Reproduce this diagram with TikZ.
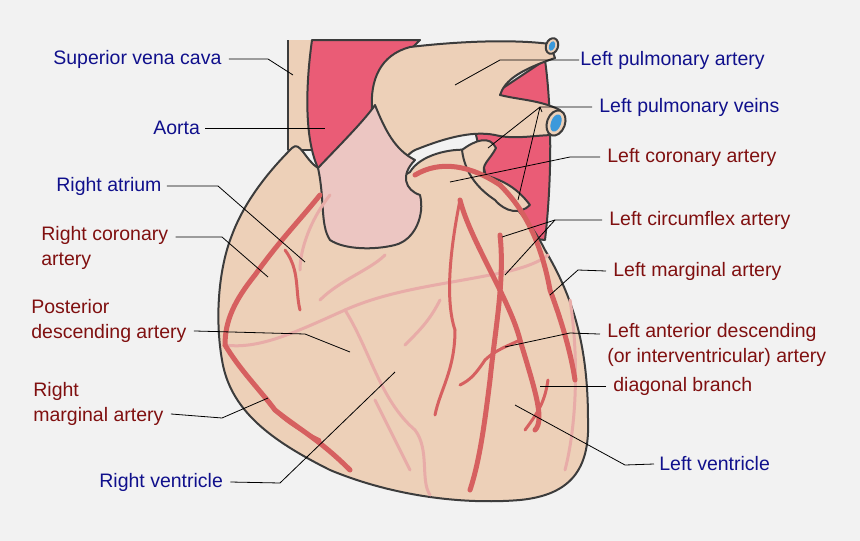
\documentclass[tikz,border=0pt]{standalone}
\usepackage{fontspec}
\setmainfont{Liberation Sans}
\definecolor{skin}{RGB}{237,208,184}
\definecolor{aortared}{RGB}{234,92,118}
\definecolor{rootpink}{RGB}{236,198,194}
\definecolor{artery}{RGB}{214,96,96}
\definecolor{vein}{RGB}{232,172,168}
\definecolor{outline}{RGB}{60,60,60}
\definecolor{lblue}{RGB}{16,16,140}
\definecolor{lred}{RGB}{128,16,16}
\definecolor{bg}{RGB}{242,242,242}
\tikzset{every picture/.style={line width=0.75pt}}
\tikzset{
  organ/.style={draw=outline,line width=2pt,line join=round},
  art/.style={draw=artery,line width=5pt,line cap=round},
  thinart/.style={draw=artery,line width=3pt,line cap=round},
  ven/.style={draw=vein,line width=3pt,line cap=round},
  lead/.style={draw=black,line width=0.8pt},
  bluelbl/.style={text=lblue,font=\fontsize{19.5}{25}\selectfont,inner sep=1pt,align=left},
  redlbl/.style={text=lred,font=\fontsize{19.5}{25}\selectfont,inner sep=1pt,align=left}
}

\begin{document}
\begin{tikzpicture}[x=1pt,y=1pt,yscale=-1,xscale=1]
    \fill [bg] (0,0) rectangle (860,541);
    \useasboundingbox (0,0) rectangle (860,541);

    %Shape: descending aorta
    \draw [organ,fill=aortared] (470,110) .. controls (500,90) and (530,70) .. (545,60) .. controls (552,110) and (552,180) .. (545,240) -- (500,235) -- cycle ;
    %Shape: superior vena cava
    \draw [organ,fill=skin] (288,40) -- (288,150) -- (312,150) -- (312,40) ;
    %Shape: aorta
    \draw [organ,fill=aortared] (312,40) -- (420,40) .. controls (390,70) and (375,90) .. (372,110) .. controls (360,140) and (340,160) .. (318,168) .. controls (305,140) and (305,90) .. (312,40) -- cycle ;
    %Shape: pulmonary artery
    \draw [organ,fill=skin] (372,110) .. controls (370,80) and (380,55) .. (410,47) .. controls (470,40) and (520,40) .. (550,44) -- (555,58) .. controls (520,70) and (505,80) .. (500,95) .. controls (520,100) and (540,100) .. (560,110) -- (555,135) .. controls (535,135) and (515,140) .. (495,135) .. controls (470,130) and (440,140) .. (415,150) .. controls (400,158) and (398,175) .. (410,185) -- (380,175) -- cycle ;
    %Shape: pulmonary vessel openings
    \draw [organ,fill=skin,rotate around={20:(552,46)}] (552,46) ellipse (6 and 8);
    \fill [cyan!70!blue!80,rotate around={20:(552,46)}] (552,46) ellipse (3 and 5);
    \draw [organ,fill=skin,rotate around={20:(556,123)}] (556,123) ellipse (9 and 13);
    \fill [cyan!70!blue!80,rotate around={20:(556,123)}] (556,123) ellipse (5 and 9);
    %Shape: heart body
    \draw [organ,fill=skin] (292,148) .. controls (300,140) and (305,160) .. (318,168) .. controls (360,185) and (395,182) .. (410,172) .. controls (420,155) and (450,148) .. (470,150) .. controls (480,165) and (485,175) .. (490,185) .. controls (510,200) and (530,220) .. (545,250) .. controls (575,300) and (588,350) .. (588,420) .. controls (590,470) and (570,495) .. (520,500) .. controls (460,505) and (390,495) .. (330,470) .. controls (270,440) and (230,410) .. (222,360) .. controls (215,320) and (218,270) .. (232,235) .. controls (245,200) and (270,170) .. (292,148) -- cycle ;
    %Shape: left atrial appendage
    \draw [organ,fill=skin] (462,150) .. controls (475,140) and (490,135) .. (496,148) .. controls (490,160) and (480,165) .. (485,175) .. controls (500,180) and (515,185) .. (530,205) .. controls (520,215) and (505,212) .. (495,200) .. controls (480,190) and (465,175) .. (462,150) -- cycle ;
    %Shape: aortic root
    \draw [organ,fill=rootpink] (318,168) .. controls (335,150) and (365,120) .. (375,105) .. controls (385,130) and (395,150) .. (415,160) .. controls (400,175) and (405,190) .. (420,195) .. controls (425,215) and (415,240) .. (395,245) .. controls (375,250) and (345,250) .. (330,240) .. controls (320,225) and (325,200) .. (318,168) -- cycle ;

    %Veins
    \draw [ven] (225,345) .. controls (260,350) and (300,330) .. (345,310) .. controls (390,290) and (440,285) .. (490,275) .. controls (520,270) and (540,262) .. (548,255);
    \draw [ven] (345,310) .. controls (370,350) and (380,400) .. (415,430) .. controls (430,450) and (420,480) .. (430,495);
    \draw [ven] (320,300) .. controls (340,280) and (370,270) .. (385,255);
    \draw [ven] (440,300) .. controls (430,320) and (420,330) .. (405,345);
    \draw [ven] (570,300) .. controls (578,350) and (578,420) .. (565,470);
    \draw [ven] (330,195) .. controls (310,220) and (300,250) .. (300,270);
    \draw [ven] (375,400) .. controls (390,430) and (400,450) .. (410,470);

    %Arteries
    \draw [art] (415,175) .. controls (440,160) and (470,165) .. (500,185) .. controls (520,205) and (540,235) .. (550,290) .. controls (565,330) and (572,360) .. (575,380);
    \draw [art] (460,200) .. controls (470,240) and (510,300) .. (520,340) .. controls (535,390) and (545,420) .. (535,430);
    \draw [art] (500,235) .. controls (505,280) and (495,330) .. (490,380) .. controls (485,420) and (480,460) .. (470,490);
    \draw [thinart] (460,200) .. controls (450,250) and (445,300) .. (455,330) .. controls (455,370) and (440,390) .. (435,415);
    \draw [thinart] (520,340) .. controls (510,345) and (495,350) .. (485,360) .. controls (475,375) and (470,380) .. (460,385);
    \draw [thinart] (548,380) .. controls (545,400) and (540,410) .. (525,430);
    \draw [art] (320,195) .. controls (300,220) and (280,240) .. (255,275) .. controls (235,300) and (225,320) .. (225,345) .. controls (240,370) and (260,390) .. (275,410) .. controls (300,430) and (320,440) .. (350,470);
    \draw [thinart] (285,250) .. controls (300,270) and (295,290) .. (300,310);
    \draw [thinart] (265,398) .. controls (280,420) and (300,430) .. (320,440);

    %Leader end points
    \coordinate (svcE) at (293,75);
    \coordinate (aoE) at (325,128);
    \coordinate (raE) at (305,262);
    \coordinate (rcaE) at (268,277);
    \coordinate (pdaE) at (350,352);
    \coordinate (rmaE) at (268,398);
    \coordinate (rvE) at (395,372);
    \coordinate (lpaE) at (455,85);
    \coordinate (lpvE1) at (488,148);
    \coordinate (lpvE2) at (518,200);
    \coordinate (lpvE3) at (542,112);
    \coordinate (lcaE) at (450,182);
    \coordinate (lcxE1) at (502,237);
    \coordinate (lcxE2) at (505,275);
    \coordinate (lmaE) at (550,295);
    \coordinate (ladE) at (505,347);
    \coordinate (dgE) at (540,386);
    \coordinate (lvE) at (515,405);

    % Text Node
    \node [bluelbl,anchor=west] (svc) at (52,59) {Superior vena cava};
    \node [bluelbl,anchor=west] (ao) at (152,128) {Aorta};
    \node [bluelbl,anchor=west] (ra) at (55,186) {Right atrium};
    \node [redlbl,anchor=west] (rca) at (40,248) {Right coronary\\artery};
    \node [redlbl,anchor=west] (pda) at (30,321) {Posterior\\descending artery};
    \node [redlbl,anchor=west] (rma) at (32,404) {Right\\marginal artery};
    \node [bluelbl,anchor=west] (rv) at (98,482) {Right ventricle};
    \node [bluelbl,anchor=west] (lpa) at (579,60) {Left pulmonary artery};
    \node [bluelbl,anchor=west] (lpv) at (598,107) {Left pulmonary veins};
    \node [redlbl,anchor=west] (lca) at (606,157) {Left coronary artery};
    \node [redlbl,anchor=west] (lcx) at (608,220) {Left circumflex artery};
    \node [redlbl,anchor=west] (lma) at (612,271) {Left marginal artery};
    \node [redlbl,anchor=west] (lad) at (606,345) {Left anterior descending\\(or interventricular) artery};
    \node [redlbl,anchor=west] (dg) at (612,386) {diagonal branch};
    \node [bluelbl,anchor=west] (lv) at (658,464) {Left ventricle};

    %Leaders
    \draw [lead] (svc.east) ++(6,0) -- (268,59) -- (svcE);
    \draw [lead] (ao.east) ++(4,0) -- (aoE);
    \draw [lead] (ra.east) ++(4,0) -- (218,186) -- (raE);
    \draw [lead] (rca.north east) ++(6,12) -- (222,237) -- (rcaE);
    \draw [lead] (pda.south east) ++(6,-13) -- (305,334) -- (pdaE);
    \draw [lead] (rma.south east) ++(6,-13) -- (222,418) -- (rmaE);
    \draw [lead] (rv.east) ++(6,0) -- (280,483) -- (rvE);
    \draw [lead] (lpa.west) -- (500,60) -- (lpaE);
    \draw [lead] (lpv.west) ++(-6,0) -- (540,107) -- (lpvE1);
    \draw [lead] (540,107) -- (lpvE2);
    \draw [lead] (540,107) -- (lpvE3);
    \draw [lead] (lca.west) ++(-6,0) -- (570,157) -- (lcaE);
    \draw [lead] (lcx.west) ++(-6,0) -- (555,220) -- (lcxE1);
    \draw [lead] (555,220) -- (lcxE2);
    \draw [lead] (lma.west) ++(-6,0) -- (578,270) -- (lmaE);
    \draw [lead] (lad.north west) ++(-6,12) -- (570,333) -- (ladE);
    \draw [lead] (dg.west) ++(-6,0) -- (dgE);
    \draw [lead] (lv.west) ++(-4,0) -- (625,465) -- (lvE);
\end{tikzpicture}
\end{document}
